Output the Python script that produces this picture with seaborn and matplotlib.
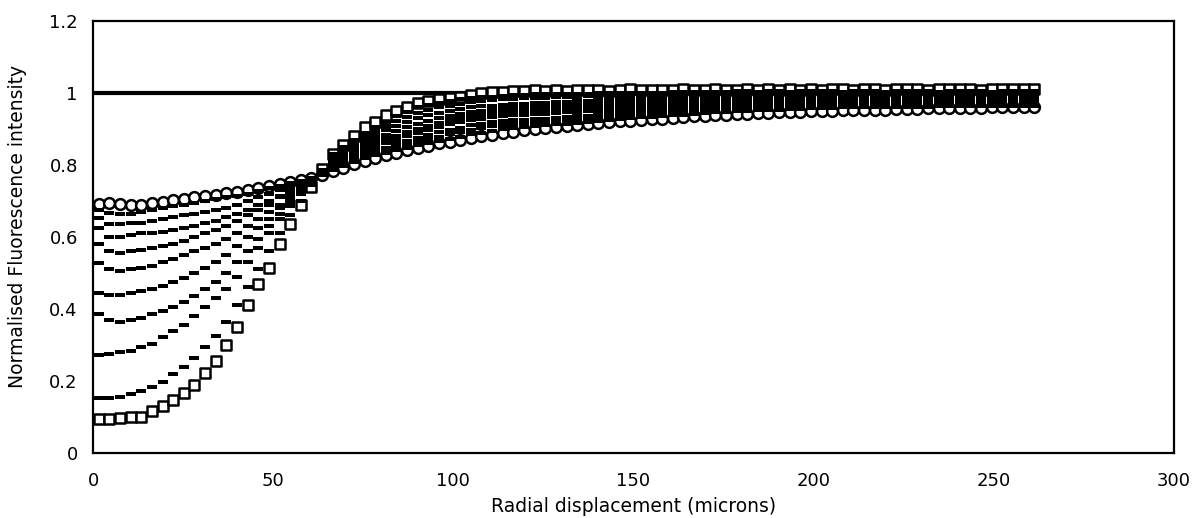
import matplotlib
matplotlib.use("Agg")
import matplotlib.pyplot as plt
from matplotlib.path import Path
import pandas as pd
import seaborn as sns

# Radial sampling grid: 89 bins, 2.95 um apart
bin_width_um = 2.95
first_bin_um = 1.6
n_bins = 89
radius_um = [round(first_bin_um + bin_width_um * i, 2) for i in range(n_bins)]

# Pre-bleach reference level
prebleach_x = [0.0, 262.0]
prebleach_level = [1.0, 1.0]

# First profile after bleaching (open squares)
profile_bleach = [
    0.095, 0.095, 0.097, 0.100, 0.101, 0.117, 0.130, 0.148, 0.167, 0.190,
    0.222, 0.255, 0.300, 0.350, 0.410, 0.470, 0.515, 0.580, 0.635, 0.690,
    0.740, 0.790, 0.830, 0.855, 0.880, 0.905, 0.920, 0.940, 0.950, 0.962,
    0.972, 0.978, 0.983, 0.987, 0.990, 0.995, 1.000, 1.003, 1.004, 1.005,
    1.006,
    1.007, 1.005, 1.008, 1.006, 1.008, 1.007, 1.009, 1.006, 1.008, 1.010,
    1.007, 1.008, 1.009, 1.007, 1.010, 1.008, 1.009, 1.011, 1.008, 1.009,
    1.010, 1.008, 1.011, 1.009, 1.010, 1.008, 1.011, 1.009, 1.010, 1.012,
    1.009, 1.010, 1.011, 1.009, 1.010, 1.012, 1.010, 1.009, 1.011, 1.010,
    1.012, 1.010, 1.009, 1.011, 1.010, 1.012, 1.011, 1.010,
]

# Intermediate recovery profiles (small black dashes)
profile_t1 = [
    0.153, 0.153, 0.156, 0.165, 0.173, 0.184, 0.198, 0.220, 0.240, 0.265,
    0.295, 0.326, 0.365, 0.410, 0.460, 0.510, 0.560, 0.610, 0.660, 0.700,
    0.745, 0.785,
    0.830, 0.850, 0.870, 0.890, 0.905, 0.920, 0.935, 0.948, 0.960, 0.967,
    0.973, 0.978, 0.982, 0.985, 0.988, 0.990, 0.992, 0.994, 0.995,
    0.996, 0.996, 0.997, 0.997, 0.998, 0.998, 0.999, 0.999, 1.000, 1.000,
    1.000, 1.001, 1.001, 1.002, 1.002, 1.003, 1.003, 1.004, 1.004, 1.005,
    1.005, 1.004, 1.006, 1.005, 1.004, 1.006, 1.005, 1.005, 1.006, 1.004,
    1.005, 1.006, 1.005, 1.004, 1.006, 1.005, 1.005, 1.006, 1.004, 1.005,
    1.006, 1.005, 1.005, 1.004, 1.006, 1.005, 1.005, 1.006,
]
profile_t2 = [
    0.273, 0.276, 0.281, 0.284, 0.295, 0.304, 0.323, 0.340, 0.356, 0.380,
    0.405, 0.430, 0.455, 0.490, 0.530, 0.570, 0.610, 0.650, 0.685, 0.720,
    0.750, 0.783,
    0.825, 0.843, 0.862, 0.880, 0.895, 0.909, 0.922, 0.934, 0.945, 0.953,
    0.960, 0.965, 0.970, 0.974, 0.977, 0.980, 0.982, 0.984, 0.985,
    0.986, 0.987, 0.988, 0.989, 0.990, 0.991, 0.992, 0.993, 0.994, 0.995,
    0.995, 0.996, 0.996, 0.997, 0.997, 0.998, 0.998, 0.999, 0.999, 1.000,
    1.000, 0.999, 1.001, 1.000, 0.999, 1.000, 1.001, 1.000, 0.999, 1.000,
    1.001, 1.000, 1.000, 0.999, 1.001, 1.000, 1.000, 0.999, 1.000, 1.001,
    1.000, 0.999, 1.000, 1.001, 1.000, 1.000, 0.999, 1.000,
]
profile_t3 = [
    0.387, 0.370, 0.365, 0.370, 0.375, 0.385, 0.395, 0.405, 0.420, 0.435,
    0.455, 0.475, 0.500, 0.530, 0.560, 0.595, 0.630, 0.665, 0.695, 0.725,
    0.752, 0.781,
    0.820, 0.837, 0.853, 0.870, 0.883, 0.896, 0.908, 0.920, 0.930, 0.938,
    0.945, 0.951, 0.956, 0.960, 0.963, 0.965, 0.967, 0.969, 0.970,
    0.972, 0.973, 0.975, 0.976, 0.978, 0.979, 0.981, 0.982, 0.984, 0.985,
    0.985, 0.986, 0.986, 0.987, 0.987, 0.988, 0.988, 0.989, 0.989, 0.990,
    0.990, 0.991, 0.991, 0.992, 0.992, 0.993, 0.993, 0.994, 0.994, 0.995,
    0.995, 0.994, 0.996, 0.995, 0.994, 0.995, 0.996, 0.995, 0.994, 0.995,
    0.996, 0.995, 0.995, 0.994, 0.996, 0.995, 0.995, 0.996,
]
profile_t4 = [
    0.445, 0.440, 0.440, 0.445, 0.450, 0.455, 0.465, 0.475, 0.485, 0.500,
    0.515, 0.530, 0.550, 0.575, 0.600, 0.625, 0.650, 0.680, 0.705, 0.730,
    0.755, 0.779,
    0.815, 0.830, 0.845, 0.860, 0.872, 0.884, 0.895, 0.905, 0.915, 0.923,
    0.930, 0.936, 0.942, 0.947, 0.951, 0.954, 0.956, 0.958, 0.960,
    0.962, 0.963, 0.965, 0.966, 0.968, 0.969, 0.971, 0.972, 0.974, 0.975,
    0.976, 0.977, 0.978, 0.979, 0.980, 0.981, 0.982, 0.983, 0.984, 0.985,
    0.985, 0.986, 0.986, 0.987, 0.987, 0.988, 0.988, 0.989, 0.989, 0.990,
    0.990, 0.989, 0.991, 0.990, 0.989, 0.990, 0.991, 0.990, 0.990, 0.989,
    0.991, 0.990, 0.990, 0.991, 0.989, 0.990, 0.991, 0.990,
]
profile_t5 = [
    0.527, 0.510, 0.505, 0.510, 0.515, 0.520, 0.530, 0.540, 0.550, 0.560,
    0.570, 0.580, 0.595, 0.610, 0.630, 0.650, 0.670, 0.690, 0.715, 0.735,
    0.757, 0.777,
    0.810, 0.823, 0.837, 0.850, 0.861, 0.871, 0.881, 0.891, 0.900, 0.909,
    0.917, 0.924, 0.930, 0.935, 0.940, 0.943, 0.946, 0.948, 0.950,
    0.952, 0.953, 0.955, 0.956, 0.958, 0.959, 0.961, 0.962, 0.964, 0.965,
    0.966, 0.967, 0.968, 0.969, 0.970, 0.971, 0.972, 0.973, 0.974, 0.975,
    0.976, 0.977, 0.978, 0.979, 0.980, 0.981, 0.982, 0.983, 0.984, 0.985,
    0.985, 0.984, 0.986, 0.985, 0.984, 0.985, 0.986, 0.985, 0.985, 0.984,
    0.986, 0.985, 0.985, 0.986, 0.984, 0.985, 0.986, 0.985,
]
profile_t6 = [
    0.580, 0.560, 0.555, 0.560, 0.565, 0.570, 0.575, 0.580, 0.590, 0.600,
    0.610, 0.620, 0.630, 0.645, 0.660, 0.675, 0.690, 0.710, 0.725, 0.740,
    0.758, 0.776,
    0.800, 0.813, 0.827, 0.840, 0.850, 0.860, 0.870, 0.880, 0.890, 0.898,
    0.906, 0.913, 0.919, 0.924, 0.929, 0.933, 0.936, 0.938, 0.940,
    0.942, 0.943, 0.945, 0.946, 0.948, 0.949, 0.951, 0.952, 0.954, 0.955,
    0.957, 0.958, 0.960, 0.961, 0.963, 0.964, 0.966, 0.967, 0.969, 0.970,
    0.971, 0.971, 0.972, 0.972, 0.973, 0.973, 0.974, 0.974, 0.975, 0.975,
    0.975, 0.976, 0.976, 0.976, 0.977, 0.977, 0.977, 0.978, 0.978, 0.978,
    0.979, 0.979, 0.979, 0.980, 0.980, 0.980, 0.980, 0.980,
]
profile_t7 = [
    0.624, 0.600, 0.600, 0.605, 0.610, 0.612, 0.615, 0.620, 0.625, 0.630,
    0.640, 0.645, 0.655, 0.665, 0.675, 0.690, 0.700, 0.715, 0.730, 0.745,
    0.760, 0.775,
    0.795, 0.807, 0.818, 0.830, 0.839, 0.848, 0.857, 0.866, 0.875, 0.883,
    0.891, 0.898, 0.904, 0.910, 0.915, 0.919, 0.922, 0.924, 0.925,
    0.927, 0.929, 0.931, 0.933, 0.935, 0.937, 0.939, 0.941, 0.943, 0.945,
    0.947, 0.948, 0.950, 0.951, 0.953, 0.954, 0.956, 0.957, 0.959, 0.960,
    0.961, 0.962, 0.963, 0.964, 0.965, 0.966, 0.967, 0.968, 0.969, 0.970,
    0.970, 0.970, 0.971, 0.971, 0.971, 0.972, 0.972, 0.972, 0.973, 0.973,
    0.973, 0.974, 0.974, 0.974, 0.974, 0.975, 0.975, 0.975,
]
profile_t8 = [
    0.654, 0.635, 0.635, 0.640, 0.640, 0.645, 0.650, 0.655, 0.660, 0.665,
    0.670, 0.675, 0.680, 0.690, 0.700, 0.710, 0.720, 0.730, 0.740, 0.750,
    0.762, 0.774,
    0.790, 0.802, 0.813, 0.825, 0.833, 0.841, 0.849, 0.857, 0.865, 0.872,
    0.879, 0.886, 0.892, 0.898, 0.903, 0.907, 0.910, 0.913, 0.915,
    0.918, 0.920, 0.923, 0.925, 0.928, 0.930, 0.933, 0.935, 0.938, 0.940,
    0.942, 0.943, 0.945, 0.946, 0.948, 0.949, 0.951, 0.952, 0.954, 0.955,
    0.956, 0.957, 0.958, 0.959, 0.960, 0.961, 0.962, 0.963, 0.964, 0.965,
    0.965, 0.965, 0.966, 0.966, 0.966, 0.967, 0.967, 0.967, 0.968, 0.968,
    0.968, 0.969, 0.969, 0.969, 0.969, 0.970, 0.970, 0.970,
]
profile_t9 = [
    0.675, 0.668, 0.665, 0.665, 0.670, 0.675, 0.680, 0.685, 0.690, 0.695,
    0.700, 0.705, 0.710, 0.715, 0.720, 0.728, 0.735, 0.742, 0.750, 0.755,
    0.763, 0.772,
    0.785, 0.797, 0.808, 0.820, 0.827, 0.834, 0.841, 0.848, 0.855, 0.861,
    0.867, 0.873, 0.879, 0.885, 0.890, 0.895, 0.899, 0.902, 0.905,
    0.908, 0.910, 0.913, 0.915, 0.918, 0.920, 0.923, 0.925, 0.928, 0.930,
    0.932, 0.934, 0.936, 0.938, 0.940, 0.942, 0.944, 0.946, 0.948, 0.950,
    0.951, 0.952, 0.953, 0.954, 0.955, 0.956, 0.957, 0.958, 0.959, 0.960,
    0.960, 0.960, 0.961, 0.961, 0.961, 0.962, 0.962, 0.962, 0.963, 0.963,
    0.963, 0.964, 0.964, 0.964, 0.964, 0.965, 0.965, 0.965,
]

# Last recorded profile (open circles)
profile_final = [
    0.692, 0.695, 0.693, 0.688, 0.690, 0.694, 0.698, 0.702, 0.706, 0.710,
    0.714, 0.718, 0.722, 0.726, 0.731, 0.736, 0.741, 0.747, 0.752, 0.758,
    0.764, 0.771, 0.782, 0.792, 0.802, 0.811, 0.819, 0.827, 0.834, 0.841,
    0.848, 0.854, 0.860, 0.865, 0.870, 0.875, 0.880, 0.884, 0.888, 0.892,
    0.896, 0.899, 0.902, 0.905, 0.908, 0.911, 0.914, 0.917, 0.919, 0.921,
    0.923, 0.925, 0.927, 0.929, 0.931, 0.933, 0.935, 0.937, 0.938, 0.940,
    0.941, 0.942, 0.944, 0.945, 0.946, 0.947, 0.948, 0.949, 0.950, 0.951,
    0.952, 0.952, 0.953, 0.954, 0.954, 0.955, 0.956, 0.956, 0.957, 0.957,
    0.958, 0.958, 0.959, 0.959, 0.960, 0.960, 0.960, 0.961, 0.961,
]

x_ticks = [0, 50, 100, 150, 200, 250, 300]
x_tick_labels = ["0", "50", "100", "150", "200", "250", "300"]
y_ticks = [0, 0.2, 0.4, 0.6, 0.8, 1.0, 1.2]
y_tick_labels = ["0", "0.2", "0.4", "0.6", "0.8", "1", "1.2"]

intermediate = [profile_t1, profile_t2, profile_t3, profile_t4, profile_t5,
                profile_t6, profile_t7, profile_t8, profile_t9]
for prof in [profile_bleach, profile_final] + intermediate:
    if len(prof) != n_bins:
        raise ValueError(f"profile length {len(prof)} != {n_bins}")

# Long-form table of all dashed profiles
dash_df = pd.concat(
    [pd.DataFrame({"radius": radius_um, "intensity": p, "frame": k + 1})
     for k, p in enumerate(intermediate)],
    ignore_index=True,
)

sns.set_theme(style="white")
plt.rcParams["font.family"] = ["DejaVu Sans"]

fig = plt.figure(figsize=(11.96, 5.18), dpi=100)
ax = fig.add_axes([0.0778, 0.1255, 0.9038, 0.834])

# Pre-bleach level
sns.lineplot(x=prebleach_x, y=prebleach_level, color="black", linewidth=3.0,
             ax=ax, zorder=1)

# Bleach profile: open squares
sns.scatterplot(x=radius_um, y=profile_bleach, marker="s", s=52,
                color="white", edgecolor="black", linewidth=1.8,
                ax=ax, zorder=2)

# Final profile: open circles
sns.scatterplot(x=radius_um, y=profile_final, marker="o", s=60,
                color="white", edgecolor="black", linewidth=1.8,
                ax=ax, zorder=3)

# Intermediate profiles: small filled dashes
dash_marker = Path([(-1.0, -0.46), (1.0, -0.46), (1.0, 0.46), (-1.0, 0.46), (-1.0, -0.46)],
                   [Path.MOVETO, Path.LINETO, Path.LINETO, Path.LINETO, Path.CLOSEPOLY])
for k, grp in dash_df.groupby("frame"):
    sns.scatterplot(data=grp, x="radius", y="intensity", marker=dash_marker, s=58,
                    color="black", linewidth=0, ax=ax, zorder=4, legend=False)

ax.set_xlim(0, 300)
ax.set_ylim(0, 1.2)
ax.set_xticks(x_ticks)
ax.set_xticklabels(x_tick_labels)
ax.set_yticks(y_ticks)
ax.set_yticklabels(y_tick_labels)
ax.tick_params(axis="both", direction="in", length=5, width=1.2, color="black",
               labelsize=13, labelcolor="black")
ax.tick_params(axis="x", pad=14)
ax.tick_params(axis="y", pad=11)

for spine in ax.spines.values():
    spine.set_visible(True)
    spine.set_color("black")
    spine.set_linewidth(1.6)

ax.set_xlabel("Radial displacement (microns)", fontsize=13.5, color="black")
ax.set_ylabel("Normalised Fluorescence intensity", fontsize=13.5, color="black")
ax.xaxis.set_label_coords(0.5, -0.103)
ax.yaxis.set_label_coords(-0.061, 0.525)

fig.savefig("out.png", dpi=100, facecolor="white")
